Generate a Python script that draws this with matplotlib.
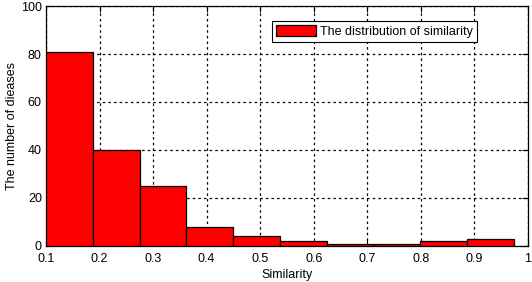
import matplotlib
matplotlib.use('Agg')
import matplotlib.pyplot as plt
import numpy as np

# histogram bins (10 equal bins from 0.1 to ~0.974) and counts
bin_edges = np.linspace(0.1, 0.974, 11)
counts = [81, 40, 25, 8, 4, 2, 1, 1, 2, 3]
xticks = [0.1, 0.2, 0.3, 0.4, 0.5, 0.6, 0.7, 0.8, 0.9, 1.0]
xtick_labels = ['0.1', '0.2', '0.3', '0.4', '0.5', '0.6', '0.7', '0.8', '0.9', '1']
yticks = [0, 20, 40, 60, 80, 100]

plt.rcParams['font.family'] = ['Liberation Sans', 'DejaVu Sans']
plt.rcParams['font.size'] = 9

fig = plt.figure(figsize=(5.32, 2.82), dpi=100)
ax = fig.add_axes([0.0865, 0.1277, 0.906, 0.851])

widths = np.diff(bin_edges)
ax.bar(bin_edges[:-1], counts, width=widths, align='edge', color='#ff0000',
       edgecolor='black', linewidth=0.9, label='The distribution of similarity', zorder=3)

ax.set_xlim(0.1, 1.0)
ax.set_ylim(0, 100)
ax.set_xticks(xticks)
ax.set_xticklabels(xtick_labels)
ax.set_yticks(yticks)
ax.tick_params(direction='in', top=True, right=True, length=4, labelsize=9)
ax.tick_params(axis='x', pad=5)
ax.tick_params(axis='y', pad=3)
ax.grid(True, linestyle=(0, (2, 2.5)), color='black', linewidth=0.9, zorder=1)
for s in ax.spines.values():
  s.set_linewidth(0.9)

ax.set_xlabel('Similarity', fontsize=9, labelpad=3)
ax.set_ylabel('The number of dieases', fontsize=9, labelpad=2)

leg = ax.legend(loc='upper left', bbox_to_anchor=(0.469, 0.9375), fancybox=False,
                framealpha=1, edgecolor='black', fontsize=9, handlelength=3.2,
                handleheight=0.9, borderpad=0.35, handletextpad=0.3, borderaxespad=0)
leg.get_frame().set_linewidth(0.8)

plt.savefig('out.png', dpi=100)
